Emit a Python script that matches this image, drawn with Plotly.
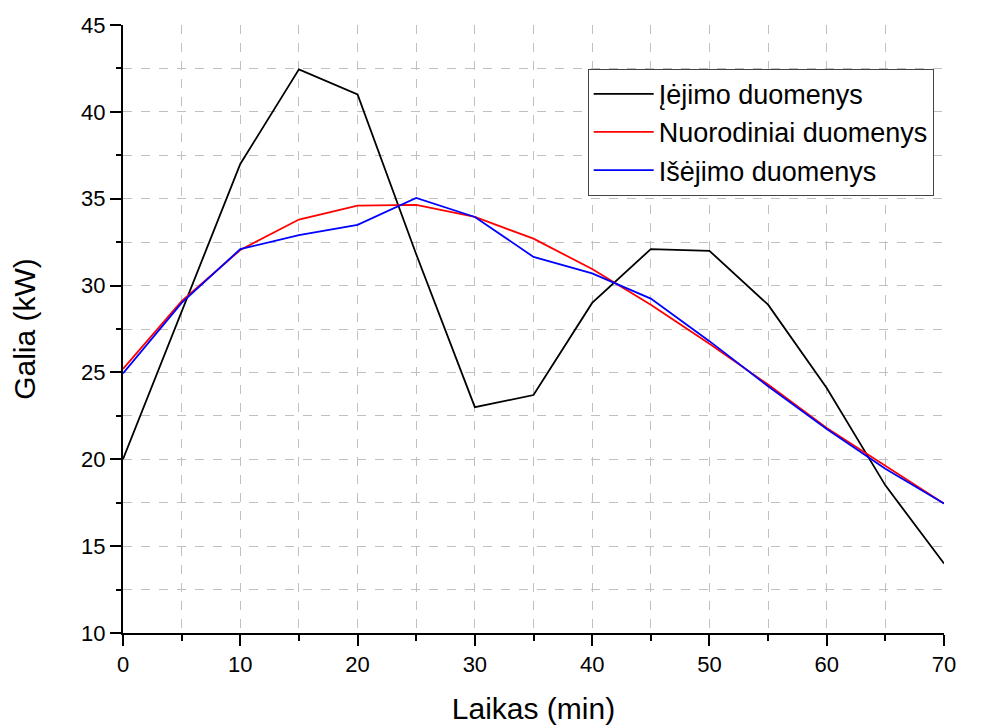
import plotly.graph_objects as go

laikas = [0, 5, 10, 15, 20, 25, 30, 35, 40, 45, 50, 55, 60, 65, 70]
iejimo = [20.0, 28.5, 37.0, 42.45, 41.0, 31.8, 23.0, 23.7, 29.0, 32.1, 32.0, 28.9, 24.1, 18.5, 14.0]
nuorodiniai = [25.2, 29.1, 32.05, 33.8, 34.6, 34.65, 33.95, 32.7, 30.95, 28.9, 26.65, 24.3, 21.8, 19.6, 17.45]
isejimo = [24.95, 29.0, 32.1, 32.9, 33.5, 35.05, 33.95, 31.65, 30.7, 29.25, 26.8, 24.2, 21.75, 19.45, 17.45]

names = ["Įėjimo duomenys", "Nuorodiniai duomenys", "Išėjimo duomenys"]
colors = ["#000000", "#ff0000", "#0000ff"]

fig = go.Figure()
for name, ys, c in zip(names, [iejimo, nuorodiniai, isejimo], colors):
    fig.add_trace(go.Scatter(x=laikas, y=ys, mode="lines", name=name,
                             line=dict(color=c, width=1.8)))

font_family = "Arial, Liberation Sans, sans-serif"
grid = dict(showgrid=True, gridcolor="#c0c0c0", gridwidth=1, griddash="dash")

fig.update_layout(
    width=977, height=718,
    margin=dict(l=115, r=41, t=17, b=93, autoexpand=False),
    paper_bgcolor="white", plot_bgcolor="white",
    font=dict(family=font_family, color="black"),
    showlegend=True,
    legend=dict(
        x=0.566, y=0.928, xanchor="left", yanchor="top",
        bgcolor="white", bordercolor="#444444", borderwidth=1,
        font=dict(size=27, family=font_family, color="black"),
        tracegroupgap=0, itemwidth=60,
    ),
    xaxis=dict(
        range=[0, 70], tickmode="linear", tick0=0, dtick=10,
        showline=True, linecolor="black", linewidth=2, automargin=False,
        ticks="outside", ticklen=11, tickwidth=2, tickcolor="black",
        tickfont=dict(size=22), zeroline=False,
        minor=dict(dtick=5, ticks="outside", ticklen=6, tickwidth=2,
                   tickcolor="black", **grid),
        title=dict(text="Laikas (min)", font=dict(size=30), standoff=22),
        **grid,
    ),
    yaxis=dict(
        range=[10, 45], tickmode="linear", tick0=10, dtick=5,
        showline=True, linecolor="black", linewidth=2, automargin=False,
        ticks="outside", ticklen=11, tickwidth=2, tickcolor="black",
        tickfont=dict(size=22), zeroline=False,
        minor=dict(dtick=2.5, ticks="outside", ticklen=5, tickwidth=2,
                   tickcolor="black", **grid),
        title=dict(text="Galia (kW)", font=dict(size=30), standoff=38),
        **grid,
    ),
)

fig.write_html("out.html")
